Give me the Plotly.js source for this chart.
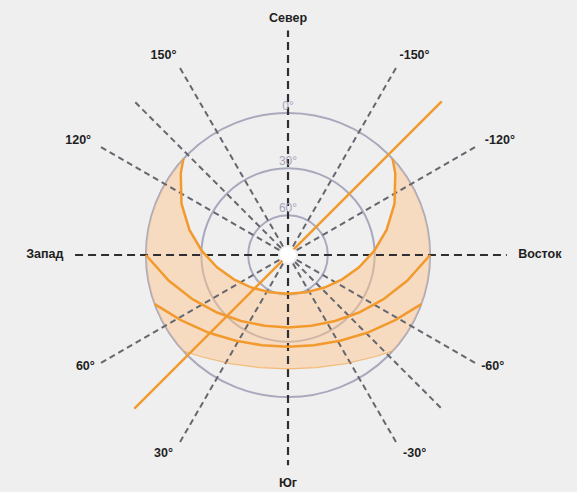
<!DOCTYPE html>
<html><head><meta charset="utf-8">
<script src="https://cdn.plot.ly/plotly-3.0.1.min.js"></script>
<style>html,body{margin:0;padding:0;background:#efefef}</style>
</head><body><div id="chart" style="width:577px;height:492px"></div>
<script>
// Azimuth measured from south, positive towards west
const labelAzimuths = [180, 0, 90, -90, 150, -150, 120, -120, 60, -60, 30, -30];
const labelTexts = ["Север", "Юг", "Запад", "Восток", "150°", "-150°", "120°", "-120°", "60°", "-60°", "30°", "-30°"];
const diagonalAzimuths = [30, 60, 120, 150, -150, -120, -60, -30, 135, -45];
const cardinalAzimuths = [0, 90, 180, -90];
const circleRadii = [1.0, 0.61, 0.28];
const circleLabels = ["0°", "30°", "60°"];

// Sun paths (azimuth, projected radius, horizon = 1)
const summerTheta = [132.6, 127.3, 115.7, 104.3, 92.7, 80.2, 65.8, 48.3, 26.2, 0, -26.2, -48.3, -65.8, -80.2, -92.7, -104.3, -115.7, -127.3, -132.6];
const summerR     = [1.0, 0.949, 0.832, 0.716, 0.607, 0.507, 0.418, 0.344, 0.292, 0.273, 0.292, 0.344, 0.418, 0.507, 0.607, 0.716, 0.832, 0.949, 1.0];
const equinoxTheta = [90, 77.8, 65.0, 51.0, 35.5, 18.3, 0, -18.3, -35.5, -51.0, -65.0, -77.8, -90];
const equinoxR     = [1.0, 0.858, 0.739, 0.643, 0.570, 0.525, 0.510, 0.525, 0.570, 0.643, 0.739, 0.858, 1.0];
const autumnTheta = [69.8, 58.7, 45.5, 31.3, 16.0, 0, -16.0, -31.3, -45.5, -58.7, -69.8];
const autumnR     = [1.0, 0.883, 0.781, 0.706, 0.661, 0.646, 0.661, 0.706, 0.781, 0.883, 1.0];
const winterTheta = [-47.4, -40.5, -27.6, -14.0, 0, 14.0, 27.6, 40.5, 47.4];
const winterR     = [1.0, 0.942, 0.864, 0.817, 0.802, 0.817, 0.864, 0.942, 1.0];
const horizonEastTheta = [-132.6, -125, -117.5, -110, -102.5, -95, -87.5, -80, -72.5, -65, -57.5, -50, -47.4];
const horizonWestTheta = [47.4, 50, 57.5, 65, 72.5, 80, 87.5, 95, 102.5, 110, 117.5, 125, 132.6];
// Orientation line
const orientTheta = [45, -135];
const orientR = [1.53, 1.53];

const ORANGE = '#f29a2e';
const FONT = 'Liberation Sans, Arial, sans-serif';
const traces = [];

const fillTheta = summerTheta.concat(horizonEastTheta, winterTheta, horizonWestTheta);
const fillR = summerR.concat(horizonEastTheta.map(() => 1), winterR, horizonWestTheta.map(() => 1));
traces.push({type: 'scatterpolar', mode: 'lines', theta: fillTheta, r: fillR, fill: 'toself',
  fillcolor: 'rgba(252,196,140,0.48)', line: {width: 0}, hoverinfo: 'skip'});

diagonalAzimuths.forEach(a => traces.push({type: 'scatterpolar', mode: 'lines', theta: [a, a], r: [0.07, 1.52],
  line: {color: '#66666f', width: 2, dash: '6px,4px'}, hoverinfo: 'skip'}));
const cardinalLen = {0: 1.48, 90: 1.52, 180: 1.58, '-90': 1.54};
cardinalAzimuths.forEach(a => traces.push({type: 'scatterpolar', mode: 'lines', theta: [a, a], r: [0.07, cardinalLen[a]],
  line: {color: '#2e2e33', width: 2.2, dash: '8px,5px'}, hoverinfo: 'skip'}));

traces.push({type: 'scatterpolar', mode: 'lines', theta: winterTheta, r: winterR, line: {color: 'rgba(242,154,46,0.55)', width: 1.2}, hoverinfo: 'skip'});
[[summerTheta, summerR], [equinoxTheta, equinoxR], [autumnTheta, autumnR]].forEach(([t, r]) =>
  traces.push({type: 'scatterpolar', mode: 'lines', theta: t, r: r, line: {color: ORANGE, width: 2.5}, hoverinfo: 'skip'}));
traces.push({type: 'scatterpolar', mode: 'lines', theta: orientTheta, r: orientR, line: {color: ORANGE, width: 2.5}, hoverinfo: 'skip'});

traces.push({type: 'scatterpolar', mode: 'markers', theta: [0], r: [0], marker: {color: '#ffffff', size: 16}, hoverinfo: 'skip'});

traces.push({type: 'scatterpolar', mode: 'text', theta: circleRadii.map(() => 180), r: circleRadii.map(v => v + 0.045),
  text: circleLabels, textfont: {family: FONT, size: 12, color: '#a4a4bc'}, hoverinfo: 'skip'});

// direction labels (placement only)
const labelR = {180: 1.66, 0: 1.61, 90: 1.58, '-90': 1.62, 150: 1.57, '-150': 1.57, 120: 1.6, '-120': 1.6, 60: 1.57, '-60': 1.57, 30: 1.62, '-30': 1.62};
const labelPos = {180: 'middle center', 0: 'middle center', 90: 'middle left', '-90': 'middle right', 150: 'top left', '-150': 'top right',
  120: 'middle left', '-120': 'middle right', 60: 'middle left', '-60': 'middle right', 30: 'middle left', '-30': 'middle right'};
traces.push({type: 'scatterpolar', mode: 'text', cliponaxis: false, theta: labelAzimuths, r: labelAzimuths.map(a => labelR[a]),
  text: labelTexts, textposition: labelAzimuths.map(a => labelPos[a]),
  textfont: {family: FONT, size: 12.5, color: '#1e1e1e', weight: 'bold'}, hoverinfo: 'skip'});

const layout = {
  width: 577, height: 492,
  paper_bgcolor: '#efefef', plot_bgcolor: '#efefef',
  margin: {l: 0, r: 0, t: 0, b: 0},
  showlegend: false,
  polar: {
    domain: {x: [0.0884, 0.9099], y: [0, 0.9634]},
    bgcolor: '#efefef',
    radialaxis: {range: [0, 1.668], tickvals: circleRadii, showgrid: true, gridcolor: '#a9a9bd', gridwidth: 2,
      showline: false, showticklabels: false, ticks: ''},
    angularaxis: {rotation: 270, direction: 'clockwise', showticklabels: false,
      showgrid: false, showline: false, ticks: ''}
  }
};
Plotly.newPlot('chart', traces, layout, {displayModeBar: false, staticPlot: true});
</script></body></html>
